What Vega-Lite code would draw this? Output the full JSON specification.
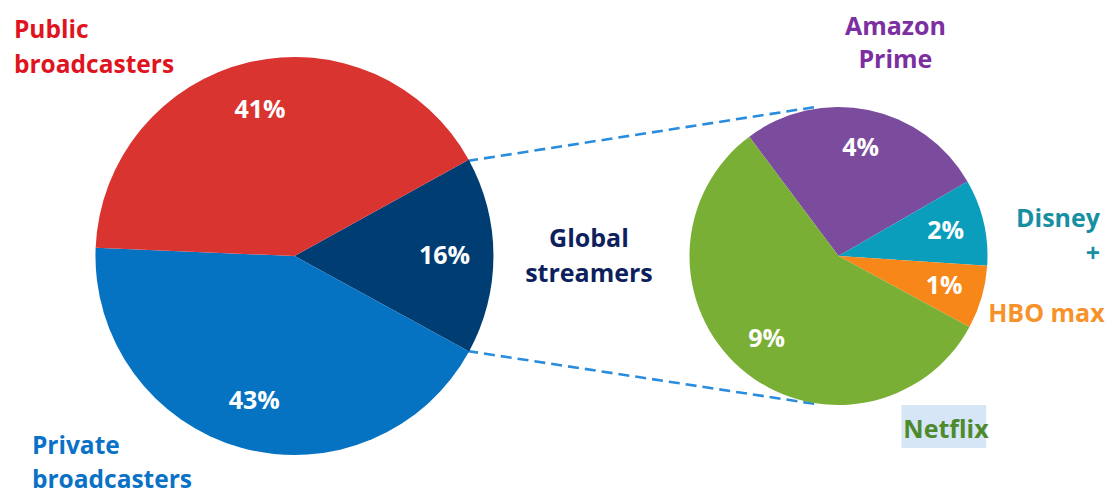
{
  "$schema": "https://vega.github.io/schema/vega-lite/v6.json",
  "width": 1105,
  "height": 495,
  "autosize": {"type": "fit", "contains": "padding"},
  "padding": 0,
  "background": "white",
  "data": {"values": [{}]},
  "config": {"view": {"stroke": null}, "text": {"font": "Open Sans", "fontWeight": "bold", "fontSize": 25}},
  "datasets": {
    "broadcast": [
      {"category": "Global streamers", "share": 16, "label": "16%"},
      {"category": "Private broadcasters", "share": 42.7, "label": "43%"},
      {"category": "Public broadcasters", "share": 41.3, "label": "41%"}
    ],
    "streamers": [
      {"service": "Amazon Prime", "share": 4.3, "label": "4%"},
      {"service": "Disney+", "share": 1.5, "label": "2%"},
      {"service": "HBO max", "share": 1.1, "label": "1%"},
      {"service": "Netflix", "share": 9.1, "label": "9%"}
    ]
  },
  "layer": [
    {
      "mark": {"type": "rule", "stroke": "#2A8CDD", "strokeWidth": 2.6, "strokeDash": [11, 6]},
      "encoding": {
        "x": {"datum": 468, "type": "quantitative", "scale": {"domain": [0, 1105], "nice": false, "zero": false}, "axis": null},
        "y": {"datum": 161, "type": "quantitative", "scale": {"domain": [495, 0], "nice": false, "zero": false}, "axis": null},
        "x2": {"datum": 817},
        "y2": {"datum": 107}
      }
    },
    {
      "mark": {"type": "rule", "stroke": "#2A8CDD", "strokeWidth": 2.6, "strokeDash": [11, 6]},
      "encoding": {
        "x": {"datum": 468, "type": "quantitative", "scale": {"domain": [0, 1105], "nice": false, "zero": false}, "axis": null},
        "y": {"datum": 351, "type": "quantitative", "scale": {"domain": [495, 0], "nice": false, "zero": false}, "axis": null},
        "x2": {"datum": 817},
        "y2": {"datum": 404}
      }
    },
    {
      "data": {"name": "broadcast"},
      "encoding": {
        "x": {"datum": 295, "type": "quantitative", "scale": {"domain": [0, 1105], "nice": false, "zero": false}, "axis": null},
        "y": {"datum": 256, "type": "quantitative", "scale": {"domain": [495, 0], "nice": false, "zero": false}, "axis": null},
        "theta": {"field": "share", "type": "quantitative", "stack": true, "scale": {"range": [1.066, 7.349]}},
        "order": {"field": "category", "type": "ordinal", "sort": "ascending"}
      },
      "layer": [
        {
          "mark": {"type": "arc", "outerRadius": 199},
          "encoding": {
            "color": {"field": "category", "type": "nominal", "legend": null,
              "scale": {"domain": ["Global streamers", "Private broadcasters", "Public broadcasters"], "range": ["#003D73", "#0673C2", "#DA3431"]}}
          }
        },
        {
          "mark": {"type": "text", "radius": 150, "fill": "white", "align": "center", "baseline": "middle"},
          "encoding": {
            "detail": {"field": "category", "type": "nominal"},
            "text": {"field": "label", "type": "nominal"}
          }
        }
      ]
    },
    {
      "data": {"name": "streamers"},
      "encoding": {
        "x": {"datum": 840, "type": "quantitative", "scale": {"domain": [0, 1105], "nice": false, "zero": false}, "axis": null},
        "y": {"datum": 256, "type": "quantitative", "scale": {"domain": [495, 0], "nice": false, "zero": false}, "axis": null},
        "theta": {"field": "share", "type": "quantitative", "stack": true, "scale": {"range": [-0.642, 5.641]}},
        "order": {"field": "service", "type": "ordinal", "sort": "ascending"}
      },
      "layer": [
        {
          "mark": {"type": "arc", "outerRadius": 149},
          "encoding": {
            "color": {"field": "service", "type": "nominal", "legend": null,
              "scale": {"domain": ["Amazon Prime", "Disney+", "HBO max", "Netflix"], "range": ["#7B4B9E", "#0A9EBC", "#F8871A", "#7AAF35"]}}
          }
        },
        {
          "mark": {"type": "text", "radius": 110, "fill": "white", "align": "center", "baseline": "middle"},
          "encoding": {
            "detail": {"field": "service", "type": "nominal"},
            "text": {"field": "label", "type": "nominal"}
          }
        }
      ]
    },
    {
      "mark": {"type": "rect", "fill": "#D6E6F7"},
      "encoding": {
        "x": {"datum": 903, "type": "quantitative", "scale": {"domain": [0, 1105], "nice": false, "zero": false}, "axis": null},
        "y": {"datum": 405, "type": "quantitative", "scale": {"domain": [495, 0], "nice": false, "zero": false}, "axis": null},
        "x2": {"datum": 988},
        "y2": {"datum": 448}
      }
    },
    {
      "mark": {"type": "text", "fill": "#E0141E", "align": "left", "baseline": "alphabetic", "lineHeight": 35, "fontSize": 24.5},
      "encoding": {
        "x": {"datum": 14, "type": "quantitative", "scale": {"domain": [0, 1105], "nice": false, "zero": false}, "axis": null},
        "y": {"datum": 38, "type": "quantitative", "scale": {"domain": [495, 0], "nice": false, "zero": false}, "axis": null},
        "text": {"value": ["Public", "broadcasters"]}
      }
    },
    {
      "mark": {"type": "text", "fill": "#0A72C6", "align": "left", "baseline": "alphabetic", "lineHeight": 34, "fontSize": 24.5},
      "encoding": {
        "x": {"datum": 32, "type": "quantitative", "scale": {"domain": [0, 1105], "nice": false, "zero": false}, "axis": null},
        "y": {"datum": 454, "type": "quantitative", "scale": {"domain": [495, 0], "nice": false, "zero": false}, "axis": null},
        "text": {"value": ["Private", "broadcasters"]}
      }
    },
    {
      "mark": {"type": "text", "fill": "#0E1F5E", "align": "center", "baseline": "alphabetic", "lineHeight": 35},
      "encoding": {
        "x": {"datum": 590, "type": "quantitative", "scale": {"domain": [0, 1105], "nice": false, "zero": false}, "axis": null},
        "y": {"datum": 247, "type": "quantitative", "scale": {"domain": [495, 0], "nice": false, "zero": false}, "axis": null},
        "text": {"value": ["Global", "streamers"]}
      }
    },
    {
      "mark": {"type": "text", "fill": "#7B2FA0", "align": "center", "baseline": "alphabetic", "lineHeight": 33},
      "encoding": {
        "x": {"datum": 897, "type": "quantitative", "scale": {"domain": [0, 1105], "nice": false, "zero": false}, "axis": null},
        "y": {"datum": 35, "type": "quantitative", "scale": {"domain": [495, 0], "nice": false, "zero": false}, "axis": null},
        "text": {"value": ["Amazon", "Prime"]}
      }
    },
    {
      "mark": {"type": "text", "fill": "#178FA3", "align": "right", "baseline": "alphabetic", "lineHeight": 35},
      "encoding": {
        "x": {"datum": 1102, "type": "quantitative", "scale": {"domain": [0, 1105], "nice": false, "zero": false}, "axis": null},
        "y": {"datum": 227, "type": "quantitative", "scale": {"domain": [495, 0], "nice": false, "zero": false}, "axis": null},
        "text": {"value": ["Disney", "+"]}
      }
    },
    {
      "mark": {"type": "text", "fill": "#F7922A", "align": "left", "baseline": "alphabetic"},
      "encoding": {
        "x": {"datum": 990, "type": "quantitative", "scale": {"domain": [0, 1105], "nice": false, "zero": false}, "axis": null},
        "y": {"datum": 322, "type": "quantitative", "scale": {"domain": [495, 0], "nice": false, "zero": false}, "axis": null},
        "text": {"value": "HBO max"}
      }
    },
    {
      "mark": {"type": "text", "fill": "#4E8A2C", "align": "left", "baseline": "alphabetic"},
      "encoding": {
        "x": {"datum": 905, "type": "quantitative", "scale": {"domain": [0, 1105], "nice": false, "zero": false}, "axis": null},
        "y": {"datum": 438, "type": "quantitative", "scale": {"domain": [495, 0], "nice": false, "zero": false}, "axis": null},
        "text": {"value": "Netflix"}
      }
    }
  ],
  "resolve": {"scale": {"theta": "independent", "color": "independent"}}
}
